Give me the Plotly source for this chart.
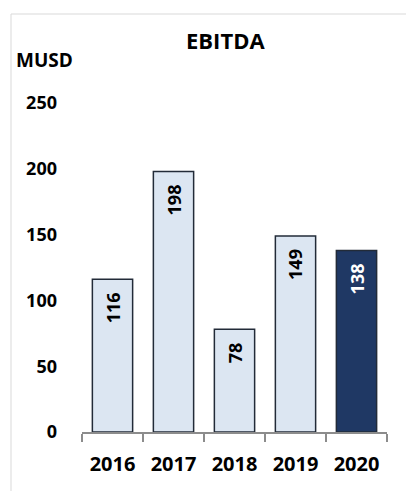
import plotly.graph_objects as go

years = ["2016", "2017", "2018", "2019", "2020"]
ebitda = [116, 198, 78, 149, 138]
bar_colors = ["#DCE6F2", "#DCE6F2", "#DCE6F2", "#DCE6F2", "#1F3864"]
label_colors = ["#000000", "#000000", "#000000", "#000000", "#FFFFFF"]
y_ticks = [0, 50, 100, 150, 200, 250]

FONT = "Open Sans"

fig = go.Figure()
fig.add_trace(go.Bar(
    x=years, y=ebitda,
    marker=dict(color=bar_colors, line=dict(color="#222B38", width=1.5)),
    cliponaxis=False,
    hoverinfo="skip",
))

W, H = 406, 491
L, R, T, B = 82, 19, 103, 59
pw = W - L - R
ph = H - T - B

def px_x(x):
    return (x - L) / pw

def px_y(y):
    return (H - B - y) / ph

annotations = [
    dict(text="<b>EBITDA</b>", xref="paper", yref="paper",
         x=px_x(225), y=px_y(40), xanchor="center", yanchor="middle",
         showarrow=False, font=dict(family=FONT, size=22, color="#000000")),
    dict(text="<b>MUSD</b>", xref="paper", yref="paper",
         x=px_x(14), y=px_y(60), xanchor="left", yanchor="middle",
         showarrow=False, font=dict(family=FONT, size=19, color="#000000")),
]
for i, (v, c) in enumerate(zip(ebitda, label_colors)):
    annotations.append(dict(
        text=f"<b>{v}</b>", x=i, y=v, xref="x", yref="y",
        xanchor="center", yanchor="top", yshift=-11,
        textangle=-90, showarrow=False,
        font=dict(family=FONT, size=18, color=c),
    ))

fig.update_layout(
    width=W, height=H,
    margin=dict(l=L, r=R, t=T, b=B, pad=0),
    paper_bgcolor="white", plot_bgcolor="white",
    showlegend=False,
    bargap=0.34,
    font=dict(family=FONT, color="#000000"),
    xaxis=dict(
        type="category",
        range=[-0.5, len(years) - 0.5],
        showgrid=False, zeroline=False,
        showline=True, linecolor="#8C8C8C", linewidth=1.5,
        ticks="outside", ticklen=8, tickcolor="#8C8C8C", tickwidth=1.5,
        tickson="boundaries",
        tickfont=dict(family=FONT, size=20, color="#000000", weight="bold"),
        ticklabelstandoff=13,
    ),
    yaxis=dict(
        range=[0, 250],
        tickvals=y_ticks,
        showgrid=False, zeroline=False, showline=False,
        ticks="",
        tickfont=dict(family=FONT, size=18, color="#000000", weight="bold"),
        ticklabelstandoff=24,
    ),
    annotations=annotations,
    shapes=[
        dict(type="line", xref="paper", yref="paper",
             x0=px_x(11), x1=px_x(W + 5), y0=px_y(14), y1=px_y(14),
             line=dict(color="#D9D9D9", width=1)),
        dict(type="line", xref="paper", yref="paper",
             x0=px_x(11), x1=px_x(11), y0=px_y(14), y1=px_y(H + 5),
             line=dict(color="#D9D9D9", width=1)),
    ],
)

fig.write_html("out.html")
